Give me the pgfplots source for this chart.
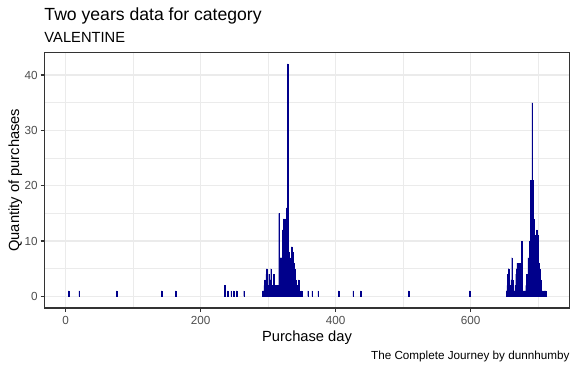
\documentclass[border=0pt]{standalone}
\usepackage{pgfplots}
\pgfplotsset{compat=1.18}
\usepackage{fontspec}
\setmainfont{Liberation Sans}
\definecolor{barcol}{RGB}{0,0,139}
\definecolor{grid92}{RGB}{235,235,235}
\definecolor{grey20}{RGB}{51,51,51}
\definecolor{grey30}{RGB}{77,77,77}
\begin{document}
\begin{tikzpicture}[x=1bp,y=1bp]
\path[use as bounding box] (0,0) rectangle (577,369);
\begin{axis}[at={(44.3bp,61bp)}, anchor=south west, scale only axis,
  width=525.4bp, height=255.7bp,
  xmin=-31.7, xmax=746.7, ymin=-2.1, ymax=44.1,
  xtick={0,200,400,600}, minor xtick={100,300,500,700},
  ytick={0,10,20,30,40}, minor ytick={5,15,25,35},
  grid=both,
  major grid style={grid92, line width=1.07bp},
  minor grid style={grid92, line width=0.53bp},
  axis line style={grey20, line width=1.07bp},
  tick align=outside, major tick length=3.67bp, minor tick length=0pt,
  tick style={grey20, line width=1.07bp},
  xtick pos=left, ytick pos=left,
  tick label style={font=\fontsize{11.7bp}{13bp}\selectfont, text=grey30, inner sep=0pt},
  xticklabel style={anchor=north, yshift=-4.3bp},
  yticklabel style={anchor=east, xshift=-2.9bp},
  /pgf/number format/assume math mode=true,
  scaled ticks=false,
]
\addplot[ybar, bar width=0.9, fill=barcol, draw=barcol, line width=0.1bp] coordinates {
(4,1)(20,1)(75,1)(142,1)(163,1)(235,2)(240,1)(245,1)(249,1)(253,1)(264,1)
(292,1)(293,1)(294,2)(295,3)(296,1)(297,4)(298,5)(299,2)(300,1)(301,4)(302,2)(303,3)(304,5)(305,1)(306,2)(307,1)(308,4)(309,1)(310,1)(311,2)(312,1)(313,1)(314,2)(315,1)
(316,15)(317,3)(318,7)(319,5)(320,7)(321,12)(322,6)(323,14)(324,10)(325,14)(326,12)(327,16)(328,10)(329,42)(330,8)(331,6)(332,7)(333,5)(334,6)(335,9)(336,7)(337,8)(338,6)(339,5)(340,4)(341,3)(342,2)(343,1)(344,1)(345,3)(346,1)
(349,1)(359,1)(365,1)(374,1)(404,1)(426,1)(437,1)(508,1)(598,1)
(653,1)(654,2)(655,4)(656,5)(657,3)(658,2)(659,1)(660,3)(661,7)(662,3)(663,2)(664,1)(665,1)(666,2)(667,4)(668,5)(669,6)(670,1)(671,5)(672,6)(673,2)(674,3)(675,10)(676,1)(677,1)(678,1)(679,1)(680,1)(681,1)(682,2)(683,4)(684,2)(685,7)(686,3)(687,10)(688,8)(689,21)(690,21)(691,35)(692,21)(693,14)(694,12)(695,10)(696,11)(697,9)(698,12)(699,11)(700,8)(701,6)(702,5)(703,2)(704,3)(705,1)(706,1)(707,1)(709,1)(710,1)(711,1)
};
\end{axis}
\node[anchor=base west, inner sep=0pt, font=\fontsize{17.6bp}{20bp}\selectfont] at (44.3,349) {Two years data for category};
\node[anchor=base west, inner sep=0pt, font=\fontsize{14.7bp}{17bp}\selectfont] at (44.3,327) {VALENTINE};
\node[anchor=base, inner sep=0pt, rotate=90, font=\fontsize{14.7bp}{17bp}\selectfont] at (19,188.85) {Quantity of purchases};
\node[anchor=base, inner sep=0pt, font=\fontsize{14.7bp}{17bp}\selectfont] at (307,28) {Purchase day};
\node[anchor=base east, inner sep=0pt, font=\fontsize{11.7bp}{13bp}\selectfont] at (569.7,9.7) {The Complete Journey by dunnhumby};
\end{tikzpicture}
\end{document}
